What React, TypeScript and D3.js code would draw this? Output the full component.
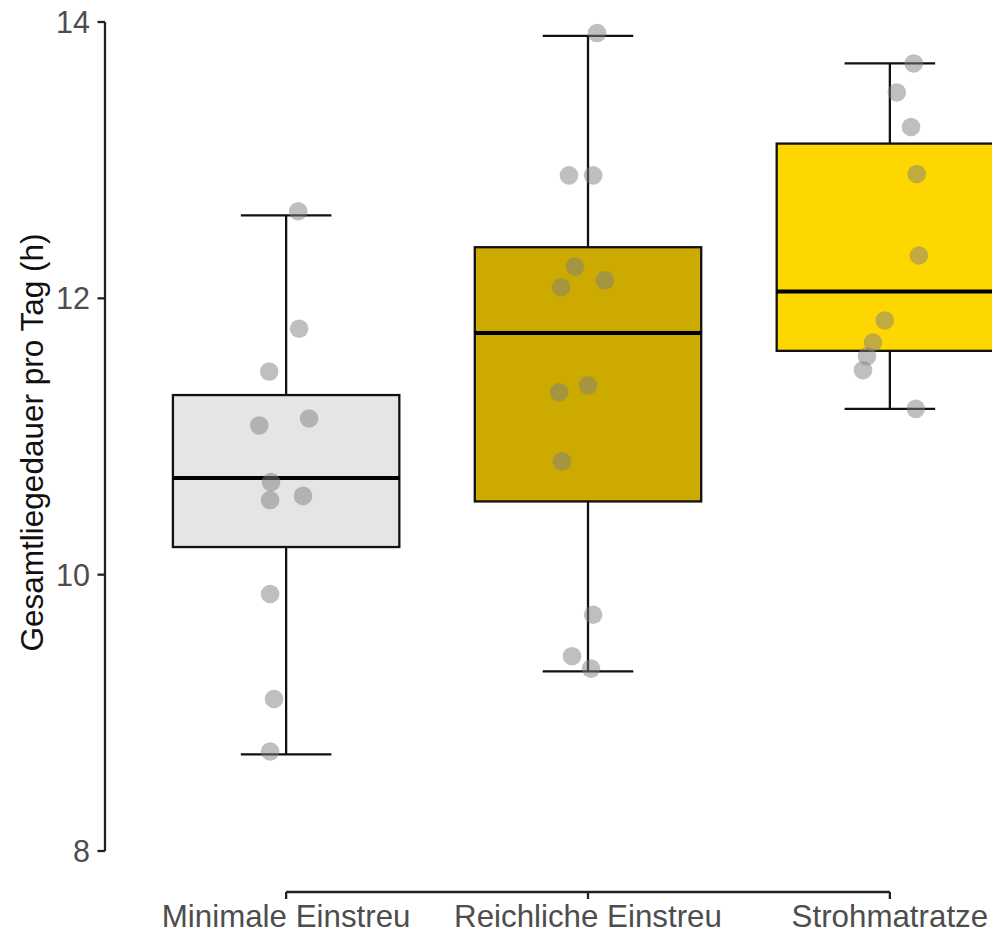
import React from "react";
import * as d3 from "d3";

const categories = ["Minimale Einstreu", "Reichliche Einstreu", "Strohmatratze"];
const boxFills = ["#E5E5E5", "#CDAA00", "#FFD700"];

// box statistics
const whiskerLow = [8.7, 9.3, 11.2];
const q1 = [10.2, 10.53, 11.62];
const median = [10.7, 11.75, 12.05];
const q3 = [11.3, 12.37, 13.12];
const whiskerHigh = [12.6, 13.9, 13.7];

// observations (value, horizontal jitter in category units)
const minimaleValues = [12.63, 11.78, 11.47, 11.13, 11.08, 10.67, 10.54, 10.57, 9.86, 9.1, 8.72];
const minimaleJitter = [0.04, 0.043, -0.056, 0.076, -0.089, -0.05, -0.053, 0.056, -0.053, -0.04, -0.053];
const reichlicheValues = [13.92, 12.89, 12.89, 12.23, 12.08, 12.13, 11.32, 11.37, 10.82, 9.71, 9.41, 9.32];
const reichlicheJitter = [0.03, -0.063, 0.017, -0.043, -0.089, 0.056, -0.096, 0, -0.086, 0.017, -0.053, 0.01];
const strohValues = [13.7, 13.49, 13.24, 12.9, 12.31, 11.84, 11.68, 11.58, 11.48, 11.2];
const strohJitter = [0.079, 0.023, 0.07, 0.089, 0.096, -0.017, -0.056, -0.076, -0.089, 0.086];

const yTicks = [8, 10, 12, 14];
const yTitle = "Gesamtliegedauer pro Tag (h)";

const W = 992;
const H = 933;
const FONT = "'Liberation Sans', Arial, Helvetica, sans-serif";

export default function App() {
  const x = d3.scalePoint<string>().domain(categories).range([105, 1071]).padding(0.6);
  const step = x.step();
  const y = d3.scaleLinear().domain([8, 14]).range([851, 22]);

  const boxW = step * 0.75;
  const capW = step * 0.3;

  const groups = [
    { values: minimaleValues, jitter: minimaleJitter },
    { values: reichlicheValues, jitter: reichlicheJitter },
    { values: strohValues, jitter: strohJitter },
  ];

  const axisColor = "#222";
  const textColor = "#4d4d4d";
  const xAxisY = 892;
  const lw = 2.3;

  return (
    <svg
      width={W}
      height={H}
      style={{ position: "absolute", left: 0, top: 0, background: "#fff" }}
      fontFamily={FONT}
    >
      <rect x={0} y={0} width={W} height={H} fill="#fff" />

      {/* boxplots */}
      {categories.map((c, i) => {
        const cx = x(c)!;
        return (
          <g key={c}>
            <line x1={cx} x2={cx} y1={y(whiskerHigh[i])} y2={y(q3[i])} stroke="#111" strokeWidth={lw} />
            <line x1={cx} x2={cx} y1={y(q1[i])} y2={y(whiskerLow[i])} stroke="#111" strokeWidth={lw} />
            <line x1={cx - capW / 2} x2={cx + capW / 2} y1={y(whiskerHigh[i])} y2={y(whiskerHigh[i])} stroke="#111" strokeWidth={lw} />
            <line x1={cx - capW / 2} x2={cx + capW / 2} y1={y(whiskerLow[i])} y2={y(whiskerLow[i])} stroke="#111" strokeWidth={lw} />
            <rect
              x={cx - boxW / 2}
              y={y(q3[i])}
              width={boxW}
              height={y(q1[i]) - y(q3[i])}
              fill={boxFills[i]}
              stroke="#111"
              strokeWidth={lw}
            />
            <line x1={cx - boxW / 2} x2={cx + boxW / 2} y1={y(median[i])} y2={y(median[i])} stroke="#000" strokeWidth={4} />
          </g>
        );
      })}

      {/* points */}
      {categories.map((c, i) => {
        const cx = x(c)!;
        return (
          <g key={"p" + c}>
            {groups[i].values.map((v, j) => (
              <circle
                key={j}
                cx={cx + groups[i].jitter[j] * step}
                cy={y(v)}
                r={9.3}
                fill="#7f7f7f"
                fillOpacity={0.5}
              />
            ))}
          </g>
        );
      })}

      {/* y axis */}
      <line x1={105} x2={105} y1={y(14)} y2={y(8)} stroke={axisColor} strokeWidth={lw} />
      {yTicks.map((t) => (
        <g key={t}>
          <line x1={97.5} x2={105} y1={y(t)} y2={y(t)} stroke={axisColor} strokeWidth={lw} />
          <text x={90} y={y(t)} dy="0.36em" textAnchor="end" fontSize={30.5} fill={textColor}>
            {t}
          </text>
        </g>
      ))}
      <text
        transform={`translate(43, ${(y(8) + y(14)) / 2 + 6}) rotate(-90)`}
        textAnchor="middle"
        fontSize={31.5}
        fill="#111"
      >
        {yTitle}
      </text>

      {/* x axis */}
      <line x1={x(categories[0])!} x2={x(categories[2])!} y1={xAxisY} y2={xAxisY} stroke={axisColor} strokeWidth={lw} />
      {categories.map((c) => (
        <g key={"xt" + c}>
          <line x1={x(c)!} x2={x(c)!} y1={xAxisY} y2={xAxisY + 7} stroke={axisColor} strokeWidth={lw} />
          <text x={x(c)!} y={927} textAnchor="middle" fontSize={31.3} fill={textColor}>
            {c}
          </text>
        </g>
      ))}
    </svg>
  );
}
